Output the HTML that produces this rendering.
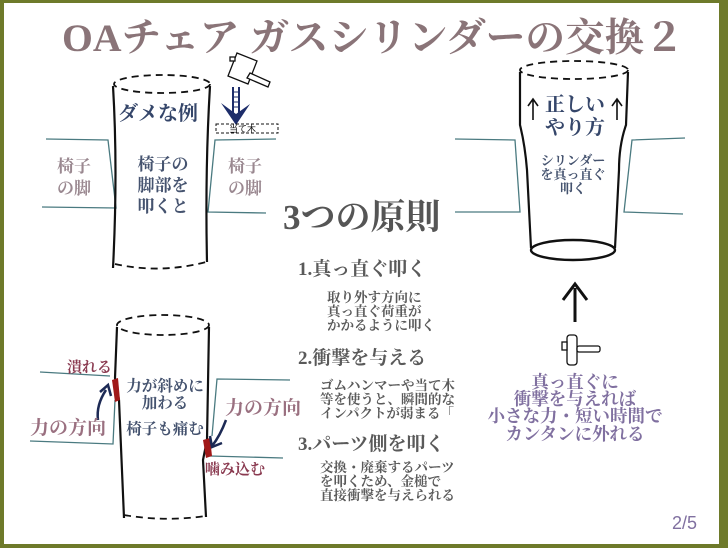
<!DOCTYPE html>
<html><head><meta charset="utf-8"><style>
html,body{margin:0;padding:0;background:#fff}
svg{display:block}
text{font-family:"Liberation Serif","Noto Serif CJK SC","Noto Serif CJK JP",serif;font-weight:bold}
</style></head><body>
<svg width="728" height="548" viewBox="0 0 728 548" xmlns="http://www.w3.org/2000/svg">
<rect x="0" y="0" width="728" height="548" fill="#6e7a2a"/>
<rect x="4" y="3" width="715" height="541" fill="#fff"/>
<text x="62" y="51" font-size="39" fill="#8a7478" textLength="622" lengthAdjust="spacingAndGlyphs">OAチェア ガスシリンダーの交換２</text>

<!-- top-left cylinder -->
<g fill="none" stroke="#4a7a80" stroke-width="1.3">
<path d="M46 139 L108 140 L116 208 L42 207"/>
<path d="M276 139 L215 140 L208 212 L266 213"/>
</g>
<g fill="none" stroke="#111" stroke-width="2.2">
<ellipse cx="162" cy="84" rx="48" ry="9" stroke-dasharray="7,5" stroke-width="1.8"/>
<path d="M113 86 Q118 170 113 268"/>
<path d="M210 86 Q205 170 207 262"/>
<path d="M115 264 Q160 274 206 262" stroke-dasharray="7,5" stroke-width="1.8"/>
</g>
<text x="118" y="120" font-size="20" fill="#35466a">ダメな例</text>
<g font-size="17" fill="#45536f" text-anchor="middle"><text x="163" y="170">椅子の</text><text x="163" y="191">脚部を</text><text x="163" y="212">叩くと</text></g>
<g font-size="17" fill="#9a8890" text-anchor="middle"><text x="74" y="172">椅子</text><text x="74" y="194">の脚</text><text x="245" y="172">椅子</text><text x="245" y="194">の脚</text></g>
<!-- hammer -->
<g stroke="#111" stroke-width="1.3" fill="#fff">
<path d="M237 53 L257 61 L248 84 L228 76 Z"/>
<path d="M250 73 L270 82 L268 87 L247 78 Z"/>
<rect x="230" y="57" width="5" height="4"/>
</g>
<path d="M233 87 L233 118 M239 87 L239 118" stroke="#1d2d6a" stroke-width="2"/>
<path d="M233 92 H239 M233 97 H239 M233 102 H239 M233 107 H239" stroke="#1d2d6a" stroke-width="1"/>
<path d="M221 103 L236 125 L250 104 L236 114 Z" fill="#1d2d6a"/>
<rect x="216" y="124" width="62" height="9" fill="none" stroke="#111" stroke-width="1" stroke-dasharray="3,2"/>
<text x="229" y="132" font-size="9" fill="#111" style="font-family:'Liberation Sans','Noto Sans CJK JP',sans-serif;font-weight:normal">当て木</text>

<!-- center text -->
<text x="283" y="229" font-size="35" fill="#555">3つの原則</text>
<g fill="#5a5a5a">
<text x="298" y="275" font-size="19">1.真っ直ぐ叩く</text>
<g font-size="13.5"><text x="327" y="302">取り外す方向に</text><text x="327" y="316">真っ直ぐ荷重が</text><text x="327" y="330">かかるように叩く</text></g>
<text x="298" y="364" font-size="19">2.衝撃を与える</text>
<g font-size="13.5"><text x="320" y="390">ゴムハンマーや当て木</text><text x="320" y="404">等を使うと、瞬間的な</text><text x="320" y="418">インパクトが弱まる「</text></g>
<text x="298" y="450" font-size="19">3.パーツ側を叩く</text>
<g font-size="13.5"><text x="320" y="472">交換・廃棄するパーツ</text><text x="320" y="486">を叩くため、金槌で</text><text x="320" y="500">直接衝撃を与えられる</text></g>
</g>

<!-- bottom-left cylinder -->
<g fill="none" stroke="#4a7a80" stroke-width="1.3">
<path d="M40 372 L110 376 M115 400 L113 444 L30 441"/>
<path d="M290 380 L217 379 L212 436 M210 456 L283 458"/>
</g>
<g fill="none" stroke="#111" stroke-width="2.2">
<ellipse cx="163" cy="325" rx="46" ry="10" stroke-dasharray="7,5" stroke-width="1.8"/>
<path d="M117 327 L115 378 L119 400 L124 518"/>
<path d="M209 327 L207 440 L203 460 L206 517"/>
<path d="M124 515 Q165 522 205 516" stroke-dasharray="7,5" stroke-width="1.8"/>
</g>
<path d="M112 380 L118 378 L120 400 L115 402 Z" fill="#a01818"/>
<path d="M203 440 L210 438 L212 456 L206 458 Z" fill="#a01818"/>
<path d="M98 420 Q96 405 106 390" fill="none" stroke="#1d2a55" stroke-width="2.5"/>
<path d="M100 392 L108 385 L111 396" fill="none" stroke="#1d2a55" stroke-width="2.5"/>
<path d="M226 420 Q220 436 212 446" fill="none" stroke="#1d2a55" stroke-width="2.5"/>
<path d="M210 436 L212 447 L222 443" fill="none" stroke="#1d2a55" stroke-width="2.5"/>
<text x="67" y="372" font-size="15" fill="#8a3a50">潰れる</text>
<text x="30" y="434" font-size="19" fill="#9a7080">力の方向</text>
<text x="225" y="414" font-size="19" fill="#9a7080">力の方向</text>
<text x="205" y="474" font-size="15" fill="#8a3a50">噛み込む</text>
<g font-size="15.5" fill="#45536f" text-anchor="middle"><text x="165" y="391">力が斜めに</text><text x="165" y="408">加わる</text><text x="165" y="434">椅子も痛む</text></g>

<!-- right cylinder -->
<g fill="none" stroke="#4a7a80" stroke-width="1.3">
<path d="M455 139 L515 140 L520 212 L455 212"/>
<path d="M685 138 L632 140 L624 212 L683 214"/>
</g>
<g fill="none" stroke="#111" stroke-width="2.2">
<ellipse cx="574" cy="70" rx="54" ry="9" stroke-dasharray="7,5" stroke-width="1.8"/>
<path d="M520 72 L520 125 Q525 145 527 170 L531 248"/>
<path d="M628 72 L626 125 Q619 145 619 170 L615 248"/>
<ellipse cx="573" cy="250" rx="42" ry="10" stroke-width="2.4"/>
</g>
<path d="M533 120 L533 100 M528 106 L533 99 L538 106 M617 120 L617 100 M612 106 L617 99 L622 106" fill="none" stroke="#111" stroke-width="1.6"/>
<g font-size="20" fill="#35466a" text-anchor="middle"><text x="575" y="111">正しい</text><text x="575" y="134">やり方</text></g>
<g font-size="13" fill="#45536f" text-anchor="middle"><text x="573" y="165">シリンダー</text><text x="573" y="179">を真っ直ぐ</text><text x="573" y="193">叩く</text></g>
<path d="M575 322 L575 288 M563 300 L575 284 L587 300" fill="none" stroke="#111" stroke-width="3"/>
<g stroke="#111" stroke-width="1.3" fill="#fff">
<rect x="567" y="335" width="10" height="30" rx="3"/>
<rect x="577" y="346" width="23" height="6" rx="2"/>
<rect x="562" y="342" width="5" height="8"/>
</g>
<g font-size="17.5" fill="#8070a0" text-anchor="middle"><text x="575" y="388">真っ直ぐに</text><text x="575" y="405">衝撃を与えれば</text><text x="575" y="422">小さな力・短い時間で</text><text x="575" y="440">カンタンに外れる</text></g>
<text x="672" y="529" font-size="18" fill="#8070a0" style="font-family:'Liberation Sans',sans-serif;font-weight:normal">2/5</text>
</svg>
</body></html>
